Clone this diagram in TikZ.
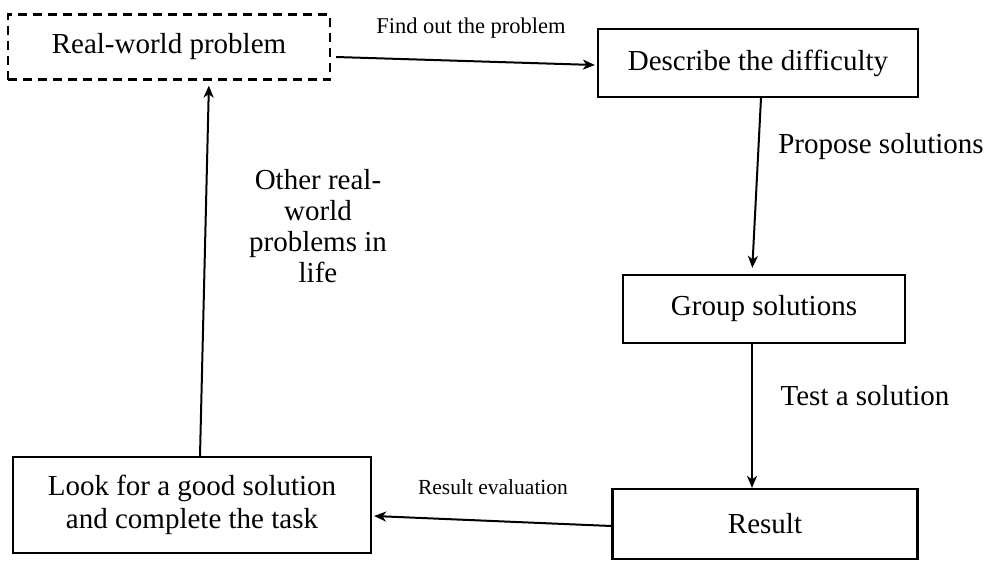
\documentclass[tikz,border=0pt]{standalone}
\usepackage{fontspec}
\setmainfont{Liberation Serif}
\usetikzlibrary{arrows.meta}
\tikzset{
  box/.style={draw, line width=2.2pt, inner sep=0pt, align=center,
    font=\fontsize{29}{33}\selectfont},
  dbox/.style={box, dash pattern=on 9pt off 6pt},
  lab/.style={inner sep=0pt, align=center, font=\fontsize{29}{31}\selectfont},
  slab/.style={inner sep=0pt, font=\fontsize{22.5}{26}\selectfont},
  arr/.style={line width=2pt, -{Stealth[length=12pt,width=10pt,inset=3.5pt]}}
}
\begin{document}
\begin{tikzpicture}[x=1pt,y=-1pt]
\useasboundingbox (0,0) rectangle (990,562);
\node[dbox, minimum width=322pt, minimum height=65pt] (real) at (169,47) {Real-world problem};
\node[box, minimum width=320pt, minimum height=68pt] (describe) at (758,63) {Describe the difficulty};
\node[box, minimum width=282pt, minimum height=68pt] (group) at (764,309) {Group solutions};
\node[box, minimum width=305pt, minimum height=70pt] (result) at (765,524) {Result};
\node[box, minimum width=358pt, minimum height=96pt] (look) at (192,505) {Look for a good solution\\and complete the task};

\node[slab] (l1) at (471,28) {Find out the problem};
\node[lab] (l2) at (881,147) {Propose solutions};
\node[lab] (l3) at (865,396) {Test a solution};
\node[slab, font=\fontsize{21.5}{25}\selectfont] (l4) at (493,487) {Result evaluation};
\node[lab] (l5) at (318,226) {Other real-\\world\\problems in\\life};

\draw[arr] ([xshift=5pt,yshift=-10pt]real.east) -- ([xshift=-2pt,yshift=-2pt]describe.west);
\draw[arr, shorten >=6pt] ([xshift=3pt]describe.south) -- ([xshift=-12pt]group.north);
\draw[arr] ([xshift=-12pt]group.south) -- ([xshift=-13pt]result.north);
\draw[arr] ([yshift=-2pt]result.west) -- ([xshift=2pt,yshift=-11pt]look.east);
\draw[arr, shorten >=5pt] ([xshift=8pt]look.north) -- ([xshift=40pt]real.south);
\end{tikzpicture}
\end{document}
